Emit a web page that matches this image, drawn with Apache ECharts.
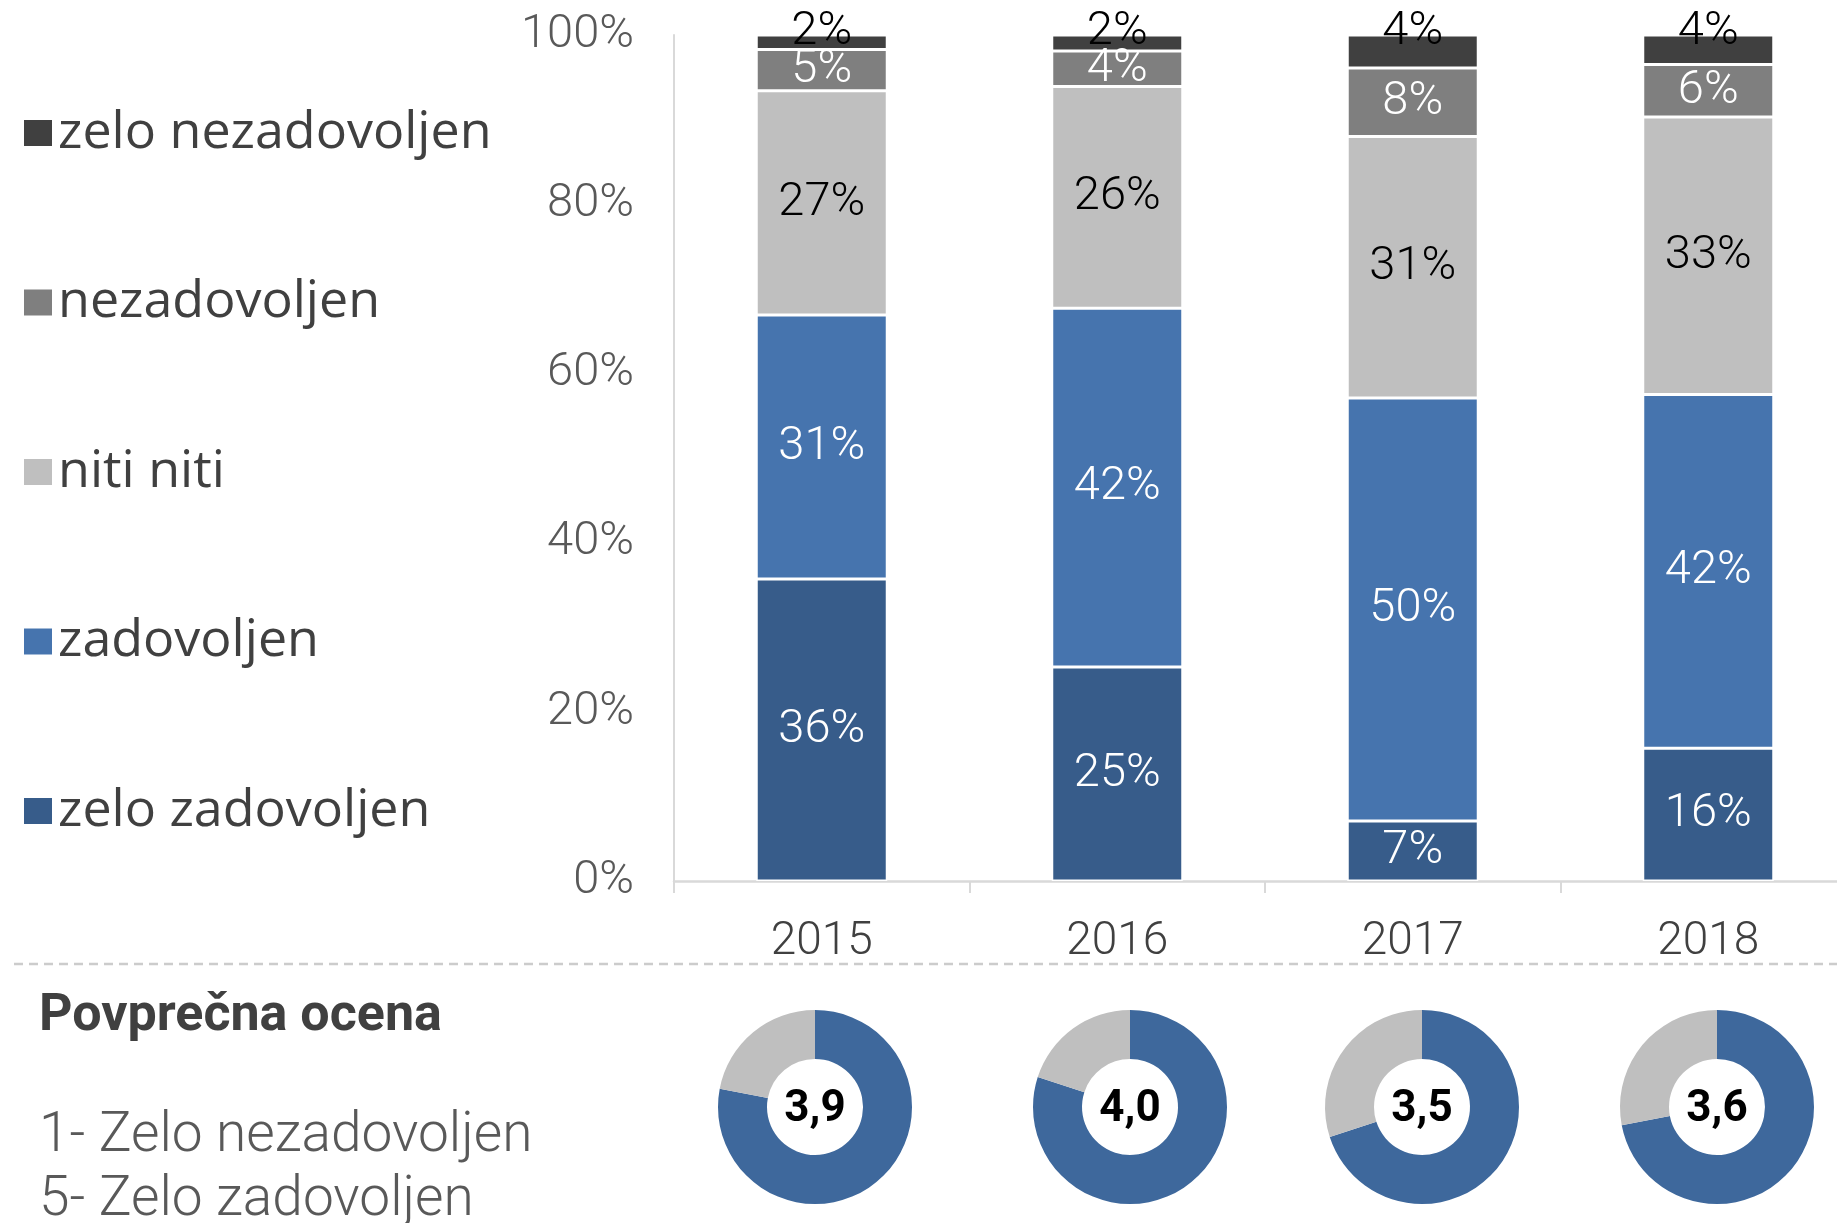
<!DOCTYPE html>
<html>
<head>
<meta charset="utf-8">
<script src="https://cdn.jsdelivr.net/npm/echarts@6.0.0/dist/echarts.min.js"></script>
<style>
  html, body { margin: 0; padding: 0; background: #fff; }
  #chart { width: 1837px; height: 1223px; }
</style>
</head>
<body>
<div id="chart"></div>
<script>
// data (share of answers, %)
var years = ['2015', '2016', '2017', '2018']
var zeloZadovoljen = [35.7, 25.3, 7.1, 15.7]
var zadovoljen = [31.2, 42.4, 50.0, 41.8]
var nitiNiti = [26.5, 26.2, 30.9, 32.8]
var nezadovoljen = [4.9, 4.2, 8.1, 6.2]
var zeloNezadovoljen = [1.7, 1.9, 3.9, 3.5]
// average score on the 1-5 scale
var avgScore = [3.9, 4.0, 3.5, 3.6]
var scoreMax = 5

var numFont = "Roboto, sans-serif"
var pieCenterX = [815, 1130, 1422, 1717]

var chart = echarts.init(document.getElementById('chart'))

function pct(p) {
  return Math.round(p.value) + '%'
}

function barSeries(name, data, color, labelColor, labelOpts) {
  return {
    name: name,
    type: 'bar',
    stack: 'all',
    barWidth: 131,
    data: data,
    itemStyle: { color: color, borderColor: '#fff', borderWidth: 1.5 },
    label: Object.assign({
      show: true,
      position: 'inside',
      formatter: pct,
      color: labelColor,
      fontFamily: numFont,
      fontWeight: 300,
      fontSize: 47
    }, labelOpts || {}),
    emphasis: { disabled: true },
    animation: false
  }
}

var series = [
  barSeries('zelo zadovoljen', zeloZadovoljen, '#375c8a', '#fff'),
  barSeries('zadovoljen', zadovoljen, '#4674ae', '#fff'),
  barSeries('niti niti', nitiNiti, '#bfbfbf', '#000'),
  barSeries('nezadovoljen', nezadovoljen, '#7f7f7f', '#fff'),
  // small top segment: label sits over the bar top
  barSeries('zelo nezadovoljen', zeloNezadovoljen, '#404040', '#000', { position: 'top', distance: 0, offset: [0, 21] })
]

avgScore.forEach(function (s, i) {
  series.push({
    type: 'pie',
    center: [pieCenterX[i], 1107],
    radius: [48, 97],
    startAngle: 90,
    clockwise: true,
    silent: true,
    animation: false,
    data: [
      { value: s, name: 'ocena', itemStyle: { color: '#3e689c' } },
      { value: scoreMax - s, name: 'ostalo', itemStyle: { color: '#bfbfbf' } }
    ],
    label: {
      show: true,
      position: 'center',
      formatter: function (p) {
        return p.dataIndex === 0 ? s.toFixed(1).replace('.', ',') : ''
      },
      color: '#000',
      fontFamily: numFont,
      fontWeight: 'bold',
      fontSize: 44,
      offset: [0, 3]
    },
    labelLine: { show: false }
  })
})

chart.setOption({
  backgroundColor: '#fff',
  title: [
    {
      text: 'Povprečna ocena',
      left: 34,
      top: 986,
      textStyle: { fontFamily: numFont, fontWeight: 'bold', fontSize: 52, color: '#404040' }
    },
    {
      text: '1- Zelo nezadovoljen\n5- Zelo zadovoljen',
      left: 34,
      top: 1100,
      textStyle: { fontFamily: numFont, fontWeight: 300, fontSize: 55, lineHeight: 64, color: '#595959' }
    }
  ],
  legend: {
    orient: 'vertical',
    left: 17,
    top: 102,
    itemWidth: 30,
    itemHeight: 28,
    itemGap: 117.5,
    icon: 'rect',
    selectedMode: false,
    data: ['zelo nezadovoljen', 'nezadovoljen', 'niti niti', 'zadovoljen', 'zelo zadovoljen'],
    textStyle: { fontFamily: "'Open Sans', sans-serif", fontSize: 52, lineHeight: 48, color: '#404040' }
  },
  grid: {
    left: 674,
    right: -19,
    top: 35,
    bottom: 342,
    outerBoundsMode: 'none'
  },
  xAxis: {
    type: 'category',
    data: years,
    axisLine: { lineStyle: { color: '#d9d9d9', width: 2.5 } },
    axisTick: { show: true, length: 12, lineStyle: { color: '#d9d9d9', width: 2 } },
    axisLabel: { margin: 38, fontFamily: numFont, fontWeight: 300, fontSize: 46, color: '#404040' }
  },
  yAxis: {
    type: 'value',
    min: 0,
    max: 100,
    interval: 20,
    splitLine: { show: false },
    axisLine: { show: true, lineStyle: { color: '#d9d9d9', width: 2 } },
    axisTick: { show: false },
    axisLabel: { formatter: '{value}%', margin: 40, fontFamily: numFont, fontWeight: 300, fontSize: 47, color: '#595959' }
  },
  graphic: [
    {
      type: 'line',
      shape: { x1: 14, y1: 964, x2: 1837, y2: 964 },
      style: { stroke: '#cccccc', lineWidth: 2.5, lineDash: [9, 6] },
      silent: true
    }
  ],
  series: series
})
</script>
</body>
</html>
